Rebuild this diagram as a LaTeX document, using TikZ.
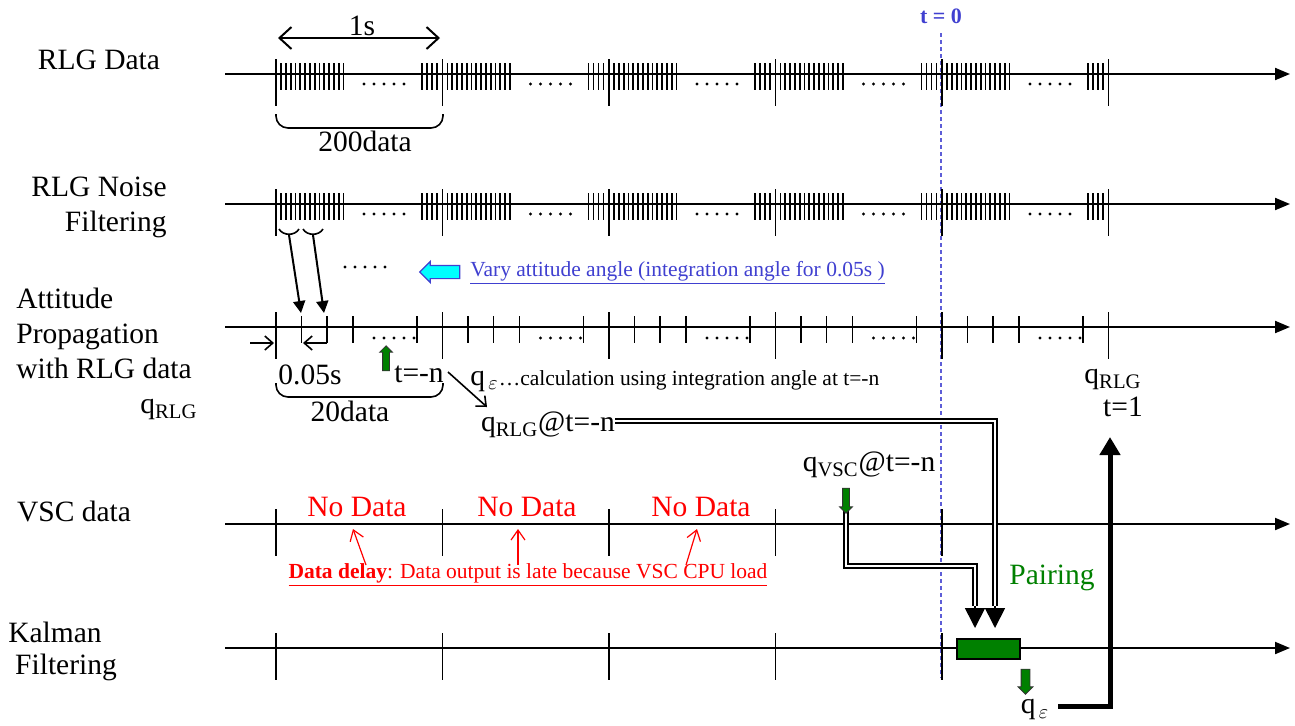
\documentclass[tikz,border=0pt]{standalone}
\usepackage{fontspec}
\setmainfont{Liberation Serif}
\usetikzlibrary{arrows.meta,shapes.arrows}
\definecolor{linkblue}{RGB}{64,64,208}
\definecolor{pairgreen}{RGB}{0,128,0}
\definecolor{arrowcyan}{RGB}{0,255,255}

\begin{document}
\begin{tikzpicture}[
    x=0.5pt, y=-0.5pt,
    font=\fontsize{14.75}{17.5}\selectfont,
    lbl/.style={inner sep=0pt},
    note/.style={inner sep=0pt, font=\fontsize{10.75}{13}\selectfont},
    axis/.style={line width=1pt, -{Triangle[length=7.5pt,width=6pt]}},
    tick/.style={line width=0.9pt},
    brace/.style={line width=0.8pt, rounded corners=6pt},
    dimarrow/.style={line width=1pt,
        {Straight Barb[length=6pt,width=11pt]}-{Straight Barb[length=6pt,width=11pt]}},
    smallbarb/.style={line width=0.8pt, -{Straight Barb[length=4pt,width=7pt]}},
    filltip/.style={line width=1pt, -{Triangle[length=6pt,width=6pt]}},
    redarrow/.style={red, line width=0.6pt, -{Straight Barb[length=5pt,width=7pt]}},
    dbl/.style={draw=black, double=white, line width=0.9pt, double distance=1.4pt},
    bighead/.style={line width=0.8pt, -{Triangle[length=10pt,width=10pt]}},
    feedback/.style={line width=2.5pt, -{Triangle[length=9pt,width=10pt]}},
    greenarrow/.style={single arrow, draw=black!80, fill=pairgreen, inner sep=1.5pt,
        single arrow head extend=1.5pt, minimum height=12.5pt, line width=0.4pt},
    cyanarrow/.style={single arrow, draw=linkblue, fill=arrowcyan, inner sep=3pt,
        single arrow head extend=2pt, minimum height=20pt,
        line width=0.6pt, shape border rotate=180}
]
\useasboundingbox (0,0) rectangle (1295,725);

% row labels
\node[lbl] (rlgdata) at (99,60) {RLG Data};
\node[lbl, align=right, anchor=east] (noisefilt) at (167,207) {RLG Noise\\Filtering};
\node[lbl, align=left, anchor=west] (attprop) at (16,333) {Attitude\\Propagation\\with RLG data};
\node[lbl] (qrlgleft) at (169,410) {q\textsubscript{RLG}};
\node[lbl] (vscdata) at (74,511) {VSC data};
\node[lbl] (kalman) at (55,632) {Kalman};
\node[lbl] (kalfilt) at (66,667) {Filtering};

% t = 0
\node[lbl, linkblue, font=\fontsize{11}{13}\selectfont\bfseries] (tzero) at (941,16) {t = 0};
\draw[linkblue!85, line width=0.6pt, dash pattern=on 2pt off 1.5pt] (941,33) -- (941,678);

% axes
\foreach \ya in {74,204,327,524,648}
  \draw[axis] (225,\ya) -- (1290,\ya);

% big ticks
\foreach \ya in {74,204,327,524,648}
  \foreach \b in {276,442.5,609,775.5,942,1108.5}
    \draw[tick] (\b,\ya-15) -- (\b,\ya+32);

% RLG data and noise filtering rows
\foreach \ya in {74,204}
  \foreach \b in {276,442.5,609,775.5,942}{
    \foreach \k in {0,...,13}
      \draw[tick] ({\b+5+4.8*\k},\ya-11) -- ++(0,27);
    \foreach \k in {0,...,3}
      \draw[tick] ({\b+146+5*\k},\ya-11) -- ++(0,27);
    \foreach \k in {0,...,4}
      \fill ({\b+88+10*\k},\ya+10) circle (0.8pt);
  }

% attitude propagation row
\foreach \b in {276,442.5,609,775.5,942}{
  \foreach \d in {25.5,51,77,141}
    \draw[tick] ({\b+\d},316) -- ++(0,27);
  \foreach \k in {0,...,4}
    \fill ({\b+98+10*\k},338) circle (0.8pt);
}

% 1s and 200data
\coordinate (onesL) at (278,38);
\coordinate (onesR) at (440,38);
\draw[dimarrow] (onesL) -- (onesR);
\node[lbl] (ones) at (362,26) {1s};
\draw[brace] (276,114) -- (276,128) -- (443,128) -- (443,114);
\node[lbl] (twohundred) at (365,141) {200data};

% small braces and arrows to attitude ticks
\draw[line width=0.8pt] (279,229) .. controls (283,236) and (295,236) .. (299,229);
\draw[line width=0.8pt] (303,229) .. controls (307,236) and (319,236) .. (323,229);
\coordinate (brA) at (289,235);
\coordinate (brB) at (313,235);
\coordinate (tkA) at (301,313);
\coordinate (tkB) at (324,313);
\draw[filltip] (brA) -- (tkA);
\draw[filltip] (brB) -- (tkB);
\foreach \k in {0,...,4}
  \fill ({345+10*\k},267) circle (0.8pt);

% vary attitude angle
\node[cyanarrow] (varyarrow) at (443,272) {};
\node[note, anchor=west, linkblue] (varytext) at (470,273)
  {\underline{Vary attitude angle (integration angle for 0.05s )}};

% 0.05s and 20data
\coordinate (dimA) at (250,343);
\coordinate (dimAt) at (274,343);
\coordinate (dimB) at (327,343);
\coordinate (dimBt) at (303,343);
\draw[smallbarb] (dimA) -- (dimAt);
\draw[smallbarb] (dimB) -- (dimBt);
\node[lbl] (pointzero) at (310,375) {0.05s};
\draw[brace] (276,383) -- (276,397) -- (443,397) -- (443,383);
\node[lbl] (twenty) at (350,411) {20data};
\node[greenarrow, shape border rotate=90] (tnup) at (386,360) {};
\node[lbl] (tminusn) at (419,374) {t=-n};

% q_eps calculation
\coordinate (calcA) at (448,372);
\coordinate (calcB) at (487,407);
\draw[smallbarb] (calcA) -- (calcB);
\node[lbl, anchor=base west] (calc) at (470,385)
  {q$_{\,\varepsilon}${\fontsize{10.75}{13}\selectfont\ldots calculation using integration angle at t=-n}};
\node[lbl] (qrlgat) at (548,425) {q\textsubscript{RLG}@t=-n};

% q_RLG t=1
\node[lbl] (qrlgtop) at (1113,380) {q\textsubscript{RLG}};
\node[lbl] (tone) at (1123,407) {t=1};

% VSC row
\node[lbl, red] (nodata1) at (357,507) {No Data};
\node[lbl, red] (nodata2) at (527,507) {No Data};
\node[lbl, red] (nodata3) at (701,507) {No Data};
\node[note, red] (delay) at (528,575)
  {\underline{\textbf{Data delay}: Data output is late because VSC CPU load}};
\coordinate (dl1) at (366,565);
\coordinate (dl2) at (518,565);
\coordinate (dl3) at (686,565);
\draw[redarrow] (dl1) -- (353,529);
\draw[redarrow] (dl2) -- (518,529);
\draw[redarrow] (dl3) -- (697,529);
\node[lbl] (qvscat) at (869,465) {q\textsubscript{VSC}@t=-n};

% pairing
\coordinate (kfinA) at (975,606);
\coordinate (kfinAtip) at (975,628);
\coordinate (kfinB) at (995,606);
\coordinate (kfinBtip) at (995,628);
\draw[dbl] ([yshift=2pt]qrlgat.east) -| (kfinB);
\draw[dbl] (846,505) -- (846,566) -| (kfinA);
\draw[bighead] (kfinA) -- (kfinAtip);
\draw[bighead] (kfinB) -- (kfinBtip);
\node[greenarrow, shape border rotate=270] (vscdown) at (846,499) {};
\node[lbl, pairgreen] (pairing) at (1052,578) {Pairing};
\node[draw=black, fill=pairgreen, line width=0.6pt, minimum width=31.5pt,
      minimum height=10pt, inner sep=0pt] (pairbox) at (988.5,649) {};
\node[greenarrow, shape border rotate=270, inner sep=2pt] (epsdown) at (1025.5,679.5) {};
\node[lbl] (qeps) at (1035,710) {q$_{\,\varepsilon}$};

% feedback to t=1
\coordinate (fbstart) at (1058,706);
\coordinate (fbtip) at (1110,437);
\draw[feedback] (fbstart) -| (fbtip);

\end{tikzpicture}
\end{document}
